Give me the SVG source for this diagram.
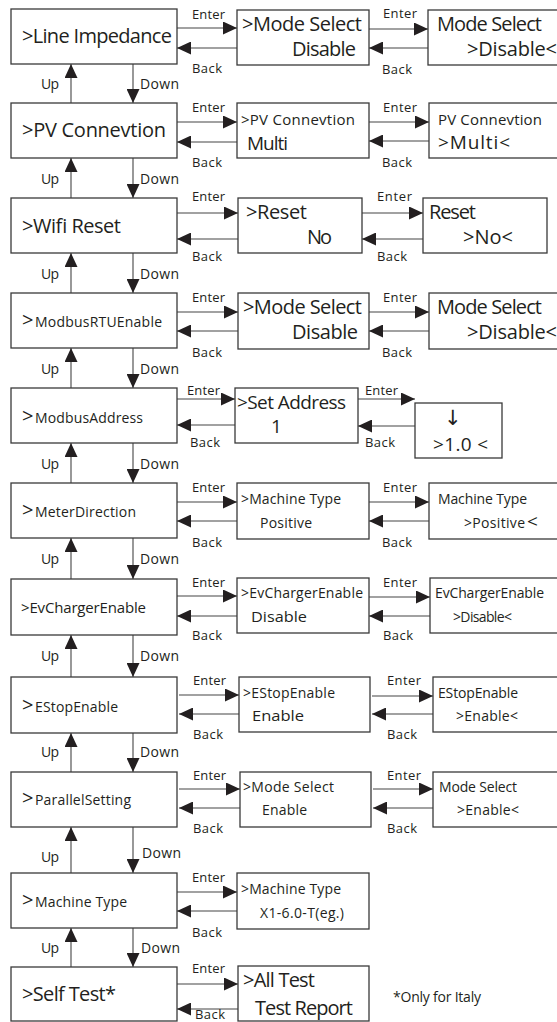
<svg xmlns="http://www.w3.org/2000/svg" width="557" height="1022" viewBox="0 0 557 1022">
<defs>
<marker id="ah" viewBox="0 0 14 13" refX="14" refY="6.5" markerWidth="14" markerHeight="13" markerUnits="userSpaceOnUse" orient="auto">
<path d="M0,0 L14,6.5 L0,13 Z" fill="#231f20"/>
</marker>
<style>
rect{fill:#fff;stroke:#3a3a3a;stroke-width:1.3}
text{font-family:"Open Sans","Noto Sans","Liberation Sans",sans-serif;fill:#231f20}
.b{font-size:20px}
.m{font-size:19px}
.s{font-size:14px}
.t{font-size:15px}
.l{font-size:13px}
.ud{font-size:14px}
.arr{font-family:"DejaVu Sans",sans-serif;font-size:21px;fill:#231f20}
#connectors line{stroke:#444;stroke-width:1.1;marker-end:url(#ah)}
</style>
</defs>

<g id="connectors">
<line x1="177" y1="28" x2="237" y2="28"/><line x1="237" y1="48" x2="177" y2="48"/>
<line x1="369" y1="29" x2="428" y2="29"/><line x1="428" y1="48" x2="369" y2="48"/>
<line x1="177" y1="122" x2="237" y2="122"/><line x1="237" y1="142" x2="177" y2="142"/>
<line x1="369" y1="122" x2="429" y2="122"/><line x1="429" y1="141" x2="369" y2="141"/>
<line x1="177" y1="213" x2="238" y2="213"/><line x1="238" y1="239" x2="177" y2="239"/>
<line x1="362" y1="213" x2="423" y2="213"/><line x1="423" y1="239" x2="362" y2="239"/>
<line x1="177" y1="312" x2="238" y2="312"/><line x1="238" y1="331" x2="177" y2="331"/>
<line x1="369" y1="312" x2="429" y2="312"/><line x1="429" y1="331" x2="369" y2="331"/>
<line x1="177" y1="399" x2="235" y2="399"/><line x1="235" y1="425" x2="177" y2="425"/>
<line x1="358" y1="399" x2="415" y2="399"/><line x1="415" y1="426" x2="358" y2="426"/>
<line x1="177" y1="502" x2="237" y2="502"/><line x1="237" y1="521" x2="177" y2="521"/>
<line x1="369" y1="502" x2="429" y2="502"/><line x1="429" y1="521" x2="369" y2="521"/>
<line x1="177" y1="596" x2="237" y2="596"/><line x1="237" y1="616" x2="177" y2="616"/>
<line x1="369" y1="597" x2="430" y2="597"/><line x1="430" y1="616" x2="369" y2="616"/>
<line x1="179" y1="695" x2="239" y2="695"/><line x1="239" y1="714" x2="179" y2="714"/>
<line x1="372" y1="696" x2="433" y2="696"/><line x1="433" y1="714" x2="372" y2="714"/>
<line x1="179" y1="789" x2="240" y2="789"/><line x1="240" y1="808" x2="179" y2="808"/>
<line x1="373" y1="789" x2="433" y2="789"/><line x1="433" y1="808" x2="373" y2="808"/>
<line x1="177" y1="892" x2="237" y2="892"/><line x1="237" y1="911" x2="177" y2="911"/>
<line x1="177" y1="984" x2="238" y2="984"/><line x1="238" y1="1009" x2="177" y2="1009"/>
<line x1="71" y1="103" x2="71" y2="64"/><line x1="133" y1="64" x2="133" y2="103"/>
<line x1="71" y1="198" x2="71" y2="158"/><line x1="133" y1="158" x2="133" y2="198"/>
<line x1="71" y1="293" x2="71" y2="253"/><line x1="133" y1="253" x2="133" y2="293"/>
<line x1="71" y1="388" x2="71" y2="348"/><line x1="133" y1="348" x2="133" y2="388"/>
<line x1="71" y1="483" x2="71" y2="443"/><line x1="133" y1="443" x2="133" y2="483"/>
<line x1="71" y1="579" x2="71" y2="538"/><line x1="133" y1="538" x2="133" y2="579"/>
<line x1="71" y1="677" x2="71" y2="635"/><line x1="133" y1="635" x2="133" y2="677"/>
<line x1="71" y1="772" x2="71" y2="733"/><line x1="133" y1="733" x2="133" y2="772"/>
<line x1="71" y1="873" x2="71" y2="827"/><line x1="133" y1="827" x2="133" y2="873"/>
<line x1="71" y1="967" x2="71" y2="928"/><line x1="133" y1="928" x2="133" y2="967"/>
</g>

<g id="connector-labels">
<text class="l" x="192" y="19" textLength="33">Enter</text><text class="l" x="192" y="73" textLength="30">Back</text>
<text class="l" x="383" y="18" textLength="34">Enter</text><text class="l" x="382" y="74" textLength="30">Back</text>
<text class="l" x="192" y="112" textLength="33">Enter</text><text class="l" x="192" y="167" textLength="30">Back</text>
<text class="l" x="383" y="112" textLength="34">Enter</text><text class="l" x="382" y="167" textLength="30">Back</text>
<text class="l" x="192" y="201" textLength="33">Enter</text><text class="l" x="192" y="261" textLength="30">Back</text>
<text class="l" x="377" y="201" textLength="35">Enter</text><text class="l" x="377" y="261" textLength="30">Back</text>
<text class="l" x="192" y="302" textLength="33">Enter</text><text class="l" x="192" y="357" textLength="30">Back</text>
<text class="l" x="383" y="302" textLength="34">Enter</text><text class="l" x="382" y="357" textLength="30">Back</text>
<text class="l" x="187" y="395" textLength="33">Enter</text><text class="l" x="190" y="447" textLength="30">Back</text>
<text class="l" x="365" y="395" textLength="33">Enter</text><text class="l" x="365" y="447" textLength="30">Back</text>
<text class="l" x="192" y="492" textLength="33">Enter</text><text class="l" x="192" y="547" textLength="30">Back</text>
<text class="l" x="383" y="492" textLength="34">Enter</text><text class="l" x="382" y="547" textLength="30">Back</text>
<text class="l" x="192" y="587" textLength="33">Enter</text><text class="l" x="192" y="640" textLength="30">Back</text>
<text class="l" x="383" y="587" textLength="34">Enter</text><text class="l" x="383" y="640" textLength="30">Back</text>
<text class="l" x="193" y="685" textLength="33">Enter</text><text class="l" x="193" y="739" textLength="30">Back</text>
<text class="l" x="387" y="685" textLength="34">Enter</text><text class="l" x="387" y="739" textLength="30">Back</text>
<text class="l" x="193" y="780" textLength="33">Enter</text><text class="l" x="193" y="833" textLength="30">Back</text>
<text class="l" x="387" y="780" textLength="34">Enter</text><text class="l" x="387" y="833" textLength="30">Back</text>
<text class="l" x="192" y="882" textLength="33">Enter</text><text class="l" x="192" y="937" textLength="30">Back</text>
<text class="l" x="192" y="973" textLength="33">Enter</text><text class="l" x="195" y="1019" textLength="30">Back</text>
<text class="ud" x="41" y="89" textLength="18">Up</text><text class="ud" x="140" y="89" textLength="39">Down</text>
<text class="ud" x="41" y="184" textLength="18">Up</text><text class="ud" x="140" y="184" textLength="39">Down</text>
<text class="ud" x="41" y="279" textLength="18">Up</text><text class="ud" x="140" y="279" textLength="39">Down</text>
<text class="ud" x="41" y="374" textLength="18">Up</text><text class="ud" x="140" y="374" textLength="39">Down</text>
<text class="ud" x="41" y="469" textLength="18">Up</text><text class="ud" x="140" y="469" textLength="39">Down</text>
<text class="ud" x="41" y="564" textLength="18">Up</text><text class="ud" x="140" y="564" textLength="39">Down</text>
<text class="ud" x="41" y="661" textLength="18">Up</text><text class="ud" x="140" y="661" textLength="39">Down</text>
<text class="ud" x="41" y="757" textLength="18">Up</text><text class="ud" x="140" y="757" textLength="39">Down</text>
<text class="ud" x="41" y="862" textLength="18">Up</text><text class="ud" x="142" y="858" textLength="39">Down</text>
<text class="ud" x="41" y="953" textLength="18">Up</text><text class="ud" x="141" y="953" textLength="39">Down</text>
</g>

<g id="line-impedance"><rect x="11" y="9" width="166" height="55"/><text class="b" x="22" y="43" textLength="150">&gt;Line Impedance</text></g>
<g id="line-impedance-mode"><rect x="237" y="10" width="132" height="55"/><text class="b" x="242" y="31" textLength="120">&gt;Mode Select</text><text class="b" x="292" y="56" textLength="64">Disable</text></g>
<g id="line-impedance-edit"><rect x="428" y="10" width="140" height="55"/><text class="b" x="437" y="31" textLength="105">Mode Select</text><text class="b" x="467" y="56" textLength="90">&gt;Disable&lt;</text></g>

<g id="pv-connection"><rect x="11" y="103" width="166" height="55"/><text class="b" x="22" y="137" textLength="144">&gt;PV Connevtion</text></g>
<g id="pv-connection-mode"><rect x="237" y="103" width="132" height="55"/><text class="t" x="241" y="125" textLength="114">&gt;PV Connevtion</text><text class="m" x="247" y="150" textLength="41">Multi</text></g>
<g id="pv-connection-edit"><rect x="429" y="103" width="140" height="55"/><text class="t" x="438" y="125" textLength="104">PV Connevtion</text><text class="m" x="438" y="149" textLength="72">&gt;Multi&lt;</text></g>

<g id="wifi-reset"><rect x="11" y="198" width="166" height="55"/><text class="b" x="22" y="233" textLength="99">&gt;Wifi Reset</text></g>
<g id="wifi-reset-mode"><rect x="238" y="198" width="124" height="55"/><text class="b" x="246" y="219" textLength="61">&gt;Reset</text><text class="b" x="307" y="244" textLength="25">No</text></g>
<g id="wifi-reset-edit"><rect x="423" y="198" width="124" height="55"/><text class="b" x="429" y="219" textLength="47">Reset</text><text class="b" x="463" y="244" textLength="50">&gt;No&lt;</text></g>

<g id="modbus-rtu"><rect x="11" y="293" width="166" height="55"/><text class="b" x="22" y="327">&gt;</text><text class="s" x="35" y="327" textLength="127">ModbusRTUEnable</text></g>
<g id="modbus-rtu-mode"><rect x="238" y="293" width="131" height="56"/><text class="b" x="243" y="314" textLength="119">&gt;Mode Select</text><text class="b" x="292" y="339" textLength="66">Disable</text></g>
<g id="modbus-rtu-edit"><rect x="429" y="293" width="140" height="56"/><text class="b" x="437" y="314" textLength="105">Mode Select</text><text class="b" x="467" y="339" textLength="90">&gt;Disable&lt;</text></g>

<g id="modbus-address"><rect x="11" y="388" width="166" height="55"/><text class="b" x="22" y="423">&gt;</text><text class="s" x="35" y="423" textLength="108">ModbusAddress</text></g>
<g id="modbus-address-set"><rect x="235" y="388" width="123" height="55"/><text class="m" x="237" y="409" textLength="109">&gt;Set Address</text><text class="m" x="271" y="433">1</text></g>
<g id="modbus-address-edit"><rect x="415" y="403" width="87" height="55"/><text class="arr" x="444" y="425">↓</text><text class="m" x="433" y="451" textLength="55">&gt;1.0 &lt;</text></g>

<g id="meter-direction"><rect x="11" y="483" width="166" height="55"/><text class="b" x="22" y="517">&gt;</text><text class="s" x="35" y="517" textLength="101">MeterDirection</text></g>
<g id="meter-direction-mode"><rect x="237" y="483" width="132" height="56"/><text class="s" x="241" y="504" textLength="100">&gt;Machine Type</text><text class="s" x="260" y="528" textLength="52">Positive</text></g>
<g id="meter-direction-edit"><rect x="429" y="483" width="140" height="56"/><text class="s" x="438" y="504" textLength="89">Machine Type</text><text class="s" x="464" y="528" textLength="61">&gt;Positive</text><text class="m" x="527" y="528">&lt;</text></g>

<g id="ev-charger"><rect x="11" y="579" width="166" height="56"/><text class="t" x="21" y="613" textLength="125">&gt;EvChargerEnable</text></g>
<g id="ev-charger-mode"><rect x="237" y="578" width="132" height="55"/><text class="s" x="241" y="598" textLength="122">&gt;EvChargerEnable</text><text class="t" x="251" y="622" textLength="56" lengthAdjust="spacingAndGlyphs">Disable</text></g>
<g id="ev-charger-edit"><rect x="430" y="578" width="140" height="55"/><text class="s" x="435" y="598" textLength="109">EvChargerEnable</text><text class="s" x="453" y="622" textLength="59">&gt;Disable&lt;</text></g>

<g id="estop"><rect x="11" y="677" width="166" height="56"/><text class="b" x="22" y="712">&gt;</text><text class="s" x="35" y="712" textLength="83">EStopEnable</text></g>
<g id="estop-mode"><rect x="239" y="677" width="131" height="55"/><text class="s" x="243" y="698" textLength="92">&gt;EStopEnable</text><text class="t" x="252" y="721" textLength="52" lengthAdjust="spacingAndGlyphs">Enable</text></g>
<g id="estop-edit"><rect x="433" y="677" width="140" height="55"/><text class="s" x="438" y="698" textLength="80">EStopEnable</text><text class="s" x="456" y="721" textLength="62">&gt;Enable&lt;</text></g>

<g id="parallel-setting"><rect x="11" y="772" width="166" height="55"/><text class="b" x="22" y="805">&gt;</text><text class="s" x="35" y="805" textLength="96">ParallelSetting</text></g>
<g id="parallel-setting-mode"><rect x="240" y="772" width="131" height="55"/><text class="s" x="243" y="792" textLength="91">&gt;Mode Select</text><text class="s" x="262" y="815" textLength="45">Enable</text></g>
<g id="parallel-setting-edit"><rect x="433" y="772" width="140" height="55"/><text class="s" x="439" y="792" textLength="78">Mode Select</text><text class="s" x="457" y="815" textLength="62">&gt;Enable&lt;</text></g>

<g id="machine-type"><rect x="11" y="873" width="166" height="55"/><text class="b" x="22" y="907">&gt;</text><text class="s" x="35" y="907" textLength="92">Machine Type</text></g>
<g id="machine-type-view"><rect x="237" y="873" width="132" height="56"/><text class="s" x="241" y="894" textLength="100">&gt;Machine Type</text><text class="s" x="260" y="918" textLength="84">X1-6.0-T(eg.)</text></g>

<g id="self-test"><rect x="11" y="967" width="166" height="54"/><text class="b" x="22" y="1001" textLength="94">&gt;Self Test*</text></g>
<g id="self-test-menu"><rect x="238" y="966" width="131" height="55"/><text class="b" x="243" y="987" textLength="72">&gt;All Test</text><text class="b" x="255" y="1015" textLength="98">Test Report</text></g>
<g id="note"><text class="s" x="393" y="1002" textLength="88">*Only for Italy</text></g>
</svg>
